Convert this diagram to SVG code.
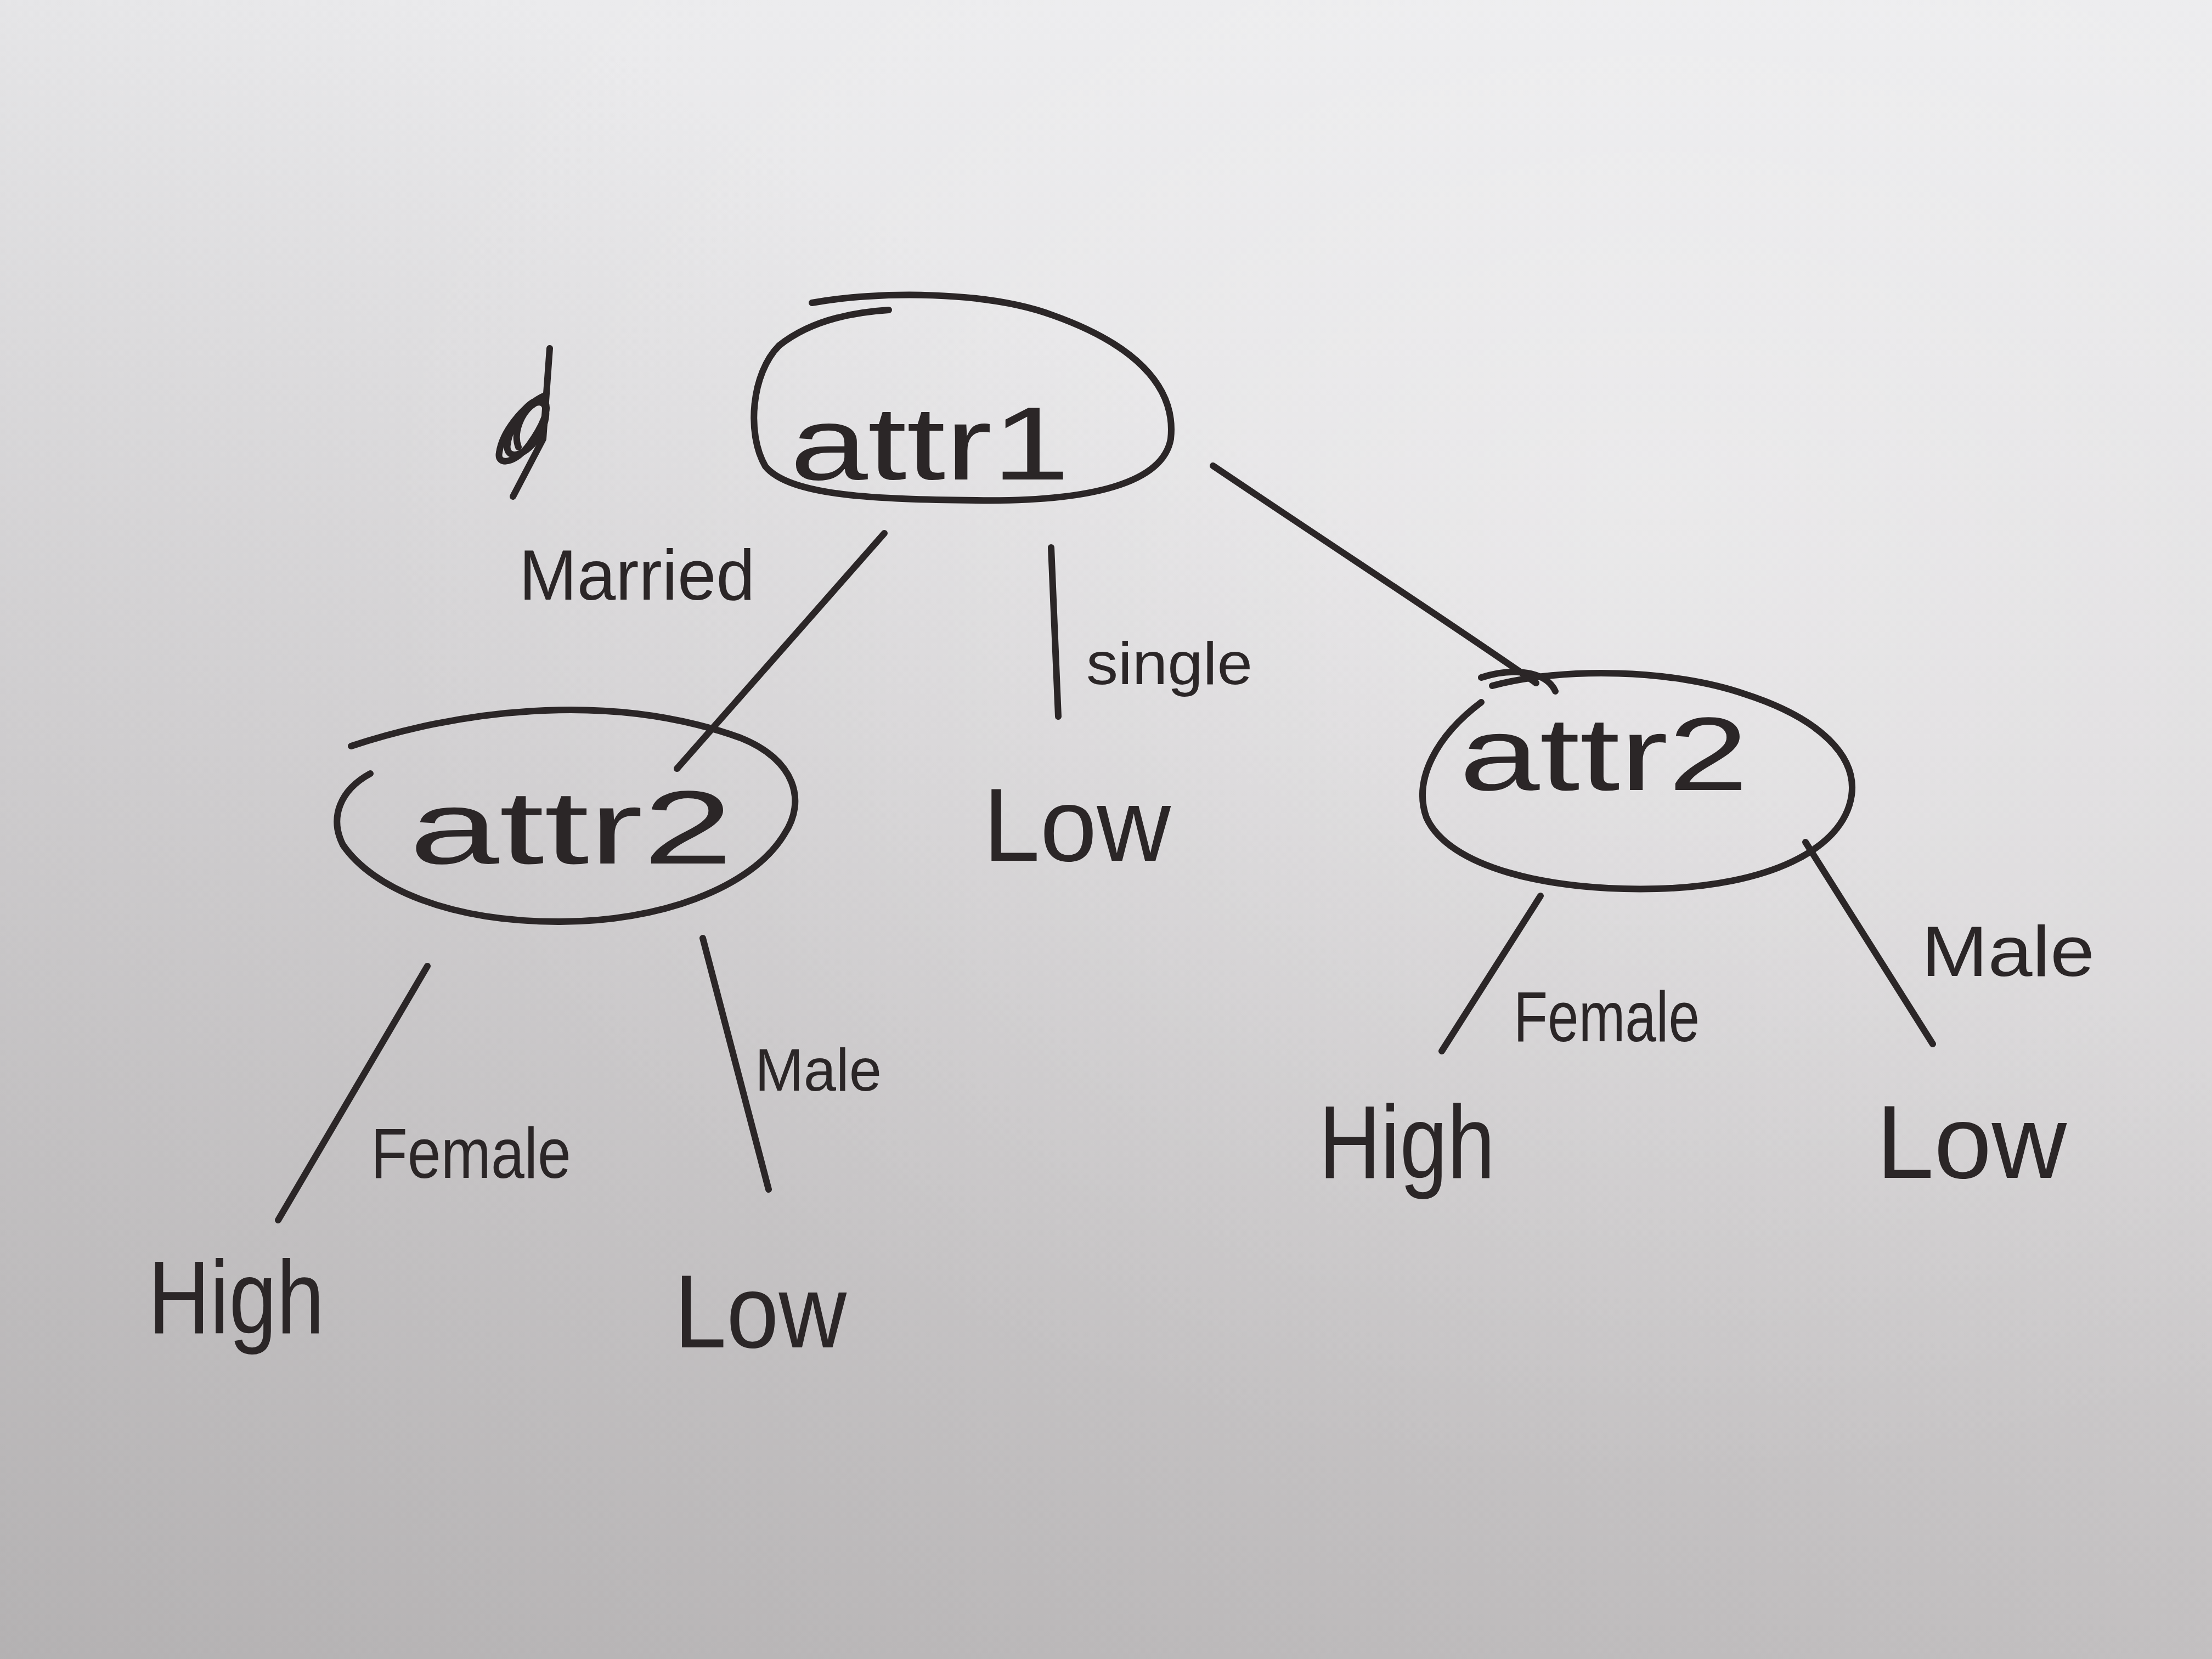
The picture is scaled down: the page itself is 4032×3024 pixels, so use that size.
<svg xmlns="http://www.w3.org/2000/svg" width="4032" height="3024" viewBox="0 0 4032 3024">
<defs>
<linearGradient id="paper" x1="0" y1="0" x2="0" y2="1">
<stop offset="0" stop-color="#ebebed"/>
<stop offset="0.45" stop-color="#dddbdd"/>
<stop offset="1" stop-color="#c8c5c6"/>
</linearGradient>
<radialGradient id="light" cx="0.75" cy="0.3" r="0.6">
<stop offset="0" stop-color="#ffffff" stop-opacity="0.3"/>
<stop offset="1" stop-color="#ffffff" stop-opacity="0"/>
</radialGradient>
<linearGradient id="shade" x1="0" y1="1" x2="0.6" y2="0.3">
<stop offset="0" stop-color="#8f8d8e" stop-opacity="0.35"/>
<stop offset="1" stop-color="#8f8d8e" stop-opacity="0"/>
</linearGradient>
</defs>
<style>
.ink{fill:none;stroke:#2b2627;stroke-width:12;stroke-linecap:round;stroke-linejoin:round}
.t{font-family:"Liberation Sans","DejaVu Sans",sans-serif;fill:#2b2627}
.big{font-size:190px}
.mid{font-size:130px}
.sm{font-size:110px}
</style>
<rect width="4032" height="3024" fill="url(#paper)"/>
<rect width="4032" height="3024" fill="url(#light)"/>
<rect width="4032" height="3024" fill="url(#shade)"/>

<g id="scribble">
<path class="ink" d="M1002 635 L990 800 L935 905" stroke-width="14"/>
<path class="ink" d="M995 720 C950 740 915 790 910 825 C905 850 940 845 965 810 C990 775 1005 740 990 730 C970 720 930 770 925 810 C920 840 960 835 985 790 C1000 760 1000 725 975 735 C950 750 935 790 945 815" stroke-width="18"/>
</g>

<g id="connectors">
<path class="ink" d="M1612 972 L1234 1401"/>
<path class="ink" d="M1916 998 L1929 1306"/>
<path class="ink" d="M2211 849 C2450 1010 2650 1140 2800 1245 M2700 1235 C2760 1215 2820 1225 2835 1260"/>
<path class="ink" d="M779 1761 L507 2224"/>
<path class="ink" d="M1281 1710 L1401 2168"/>
<path class="ink" d="M2808 1633 L2628 1916"/>
<path class="ink" d="M3291 1535 L3523 1903"/>
</g>

<g id="root">
<path class="ink" d="M1480 552 C1600 530 1800 530 1920 575 C2060 625 2145 700 2134 800 C2120 880 1990 915 1780 912 C1600 910 1440 905 1395 850 C1360 790 1370 680 1420 630 C1470 590 1540 570 1620 565"/>
<text class="t big" x="1440" y="874" textLength="510" lengthAdjust="spacingAndGlyphs">attr1</text>
<text class="t mid" x="946" y="1093" textLength="430" lengthAdjust="spacingAndGlyphs">Married</text>
<text class="t sm" x="1980" y="1247" textLength="303" lengthAdjust="spacingAndGlyphs">single</text>
</g>

<g id="low-single">
<text class="t big" x="1792" y="1569" textLength="342" lengthAdjust="spacingAndGlyphs">Low</text>
</g>

<g id="attr2-left">
<path class="ink" d="M640 1360 C820 1300 1100 1255 1350 1345 C1450 1385 1470 1460 1430 1520 C1370 1620 1200 1680 1020 1680 C820 1680 680 1620 625 1540 C600 1490 620 1440 675 1410"/>
<text class="t big" x="746" y="1574" textLength="590" lengthAdjust="spacingAndGlyphs">attr2</text>
<text class="t mid" x="676" y="2147" textLength="365" lengthAdjust="spacingAndGlyphs">Female</text>
<text class="t sm" x="1376" y="1988" textLength="231" lengthAdjust="spacingAndGlyphs">Male</text>
</g>

<g id="high-left">
<text class="t big" x="270" y="2430" textLength="321" lengthAdjust="spacingAndGlyphs">High</text>
</g>
<g id="low-left">
<text class="t big" x="1229" y="2456" textLength="314" lengthAdjust="spacingAndGlyphs">Low</text>
</g>

<g id="attr2-right">
<path class="ink" d="M2720 1250 C2850 1215 3050 1220 3180 1265 C3320 1310 3385 1380 3375 1450 C3360 1550 3220 1615 3020 1620 C2820 1625 2640 1580 2600 1490 C2575 1420 2620 1340 2700 1280"/>
<text class="t big" x="2660" y="1440" textLength="527" lengthAdjust="spacingAndGlyphs">attr2</text>
<text class="t mid" x="2759" y="1898" textLength="339" lengthAdjust="spacingAndGlyphs">Female</text>
<text class="t mid" x="3502" y="1779" textLength="316" lengthAdjust="spacingAndGlyphs">Male</text>
</g>

<g id="high-right">
<text class="t big" x="2404" y="2147" textLength="321" lengthAdjust="spacingAndGlyphs">High</text>
</g>
<g id="low-right">
<text class="t big" x="3420" y="2147" textLength="347" lengthAdjust="spacingAndGlyphs">Low</text>
</g>
</svg>
